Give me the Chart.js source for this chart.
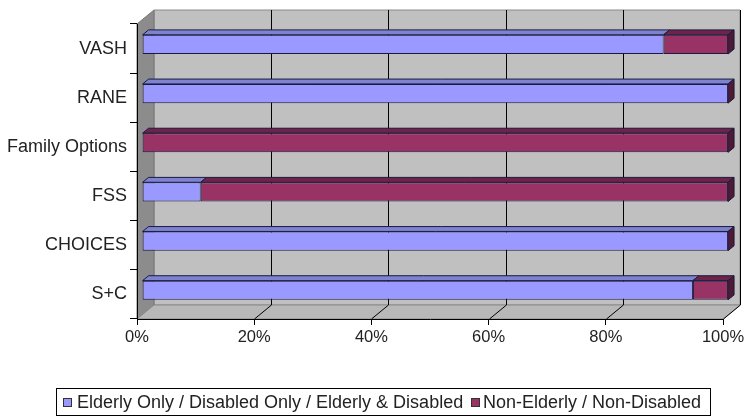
<!DOCTYPE html>
<html>
<head>
<meta charset="utf-8">
<script src="https://cdn.jsdelivr.net/npm/chart.js@4.4.0/dist/chart.umd.min.js"></script>
<style>
  html, body { margin: 0; padding: 0; background: #fff; }
</style>
</head>
<body>
<canvas id="chart" width="748" height="417"></canvas>
<script>
// data (percent of households per program)
const programs = ['VASH', 'RANE', 'Family Options', 'FSS', 'CHOICES', 'S+C'];
const elderlyDisabled = [89, 100, 0, 10, 100, 94];
const nonElderly = [11, 0, 100, 90, 0, 6];
const xTicks = [0, 20, 40, 60, 80, 100];
const seriesNames = ['Elderly Only / Disabled Only / Elderly & Disabled', 'Non-Elderly / Non-Disabled'];

const FONT = 'Arial, "Liberation Sans", sans-serif';
const DEPTH = { x: 17, y: -14 };   // offset of the back wall
const BAR_FRONT = 0.3, BAR_BACK = 0.65;  // where the bars sit in depth

const faceColors = [
    { front: '#9999ff', top: '#7d83cf', side: '#4c4f80' },
    { front: '#993366', top: '#6e2449', side: '#4f1a34' }
];
const edge = '#1a1a40';

function poly(ctx, pts, fill, stroke) {
    ctx.beginPath();
    ctx.moveTo(pts[0][0], pts[0][1]);
    for (let i = 1; i < pts.length; i++) ctx.lineTo(pts[i][0], pts[i][1]);
    ctx.closePath();
    if (fill) { ctx.fillStyle = fill; ctx.fill(); }
    if (stroke) { ctx.strokeStyle = stroke; ctx.lineWidth = 1; ctx.stroke(); }
}

const box3d = {
    id: 'box3d',
    beforeDraw(chart) {
        const { ctx, chartArea: a } = chart;
        const xs = chart.scales.x;
        const dx = DEPTH.x, dy = DEPTH.y;
        ctx.save();
        // back wall
        poly(ctx, [[a.left + dx, a.top + dy], [a.right + dx, a.top + dy], [a.right + dx, a.bottom + dy], [a.left + dx, a.bottom + dy]], '#c0c0c0', '#8a8a8a');
        // left wall
        poly(ctx, [[a.left, a.top], [a.left + dx, a.top + dy], [a.left + dx, a.bottom + dy], [a.left, a.bottom]], '#8c8c8c', '#777');
        // floor
        poly(ctx, [[a.left, a.bottom], [a.left + dx, a.bottom + dy], [a.right + dx, a.bottom + dy], [a.right, a.bottom]], '#b8b8b8', '#8a8a8a');
        // gridlines on wall and floor
        ctx.strokeStyle = '#000';
        ctx.lineWidth = 1;
        xTicks.forEach(v => {
            const px = Math.round(xs.getPixelForValue(v)) + 0.5;
            if (v === 0) return;
            ctx.beginPath();
            ctx.moveTo(px + dx, a.top + dy);
            ctx.lineTo(px + dx, a.bottom + dy);
            ctx.lineTo(px, a.bottom);
            ctx.stroke();
        });
        ctx.restore();
    },
    beforeDatasetsDraw(chart) {
        chart.ctx.save();
        chart.ctx.translate(DEPTH.x * BAR_FRONT, DEPTH.y * BAR_FRONT);
    },
    afterDatasetsDraw(chart) {
        const ctx = chart.ctx;
        ctx.restore();
        const ox = DEPTH.x * BAR_FRONT, oy = DEPTH.y * BAR_FRONT;
        const ddx = DEPTH.x * (BAR_BACK - BAR_FRONT), ddy = DEPTH.y * (BAR_BACK - BAR_FRONT);
        const last = chart.data.datasets.length - 1;
        ctx.save();
        chart.data.datasets.forEach((ds, i) => {
            const meta = chart.getDatasetMeta(i);
            meta.data.forEach(bar => {
                const p = bar.getProps(['x', 'y', 'base', 'height'], true);
                const left = p.base + ox, right = p.x + ox;
                const top = p.y - p.height / 2 + oy, bottom = p.y + p.height / 2 + oy;
                if (right - left > 0.5) {
                    poly(ctx, [[left, top], [left + ddx, top + ddy], [right + ddx, top + ddy], [right, top]], faceColors[i].top, edge);
                }
                if (i === last) {
                    poly(ctx, [[right, top], [right + ddx, top + ddy], [right + ddx, bottom + ddy], [right, bottom]], faceColors[i].side, edge);
                }
            });
        });
        ctx.restore();
    },
    afterDraw(chart) {
        // legend in a framed box under the plot
        const ctx = chart.ctx;
        ctx.save();
        ctx.font = '18px ' + FONT;
        ctx.textBaseline = 'middle';
        ctx.strokeStyle = '#000';
        ctx.lineWidth = 1;
        ctx.strokeRect(56.5, 388.5, 654, 27);
        const items = [{ sq: 63, tx: 77 }, { sq: 471, tx: 483 }];
        const cy = 402;
        seriesNames.forEach((name, i) => {
            ctx.fillStyle = faceColors[i].front;
            ctx.fillRect(items[i].sq + 0.5, cy - 3.5, 8, 8);
            ctx.strokeStyle = '#333';
            ctx.strokeRect(items[i].sq + 0.5, cy - 3.5, 8, 8);
            ctx.fillStyle = '#222';
            ctx.fillText(name, items[i].tx, cy + 1);
        });
        ctx.restore();
    }
};

new Chart(document.getElementById('chart'), {
    type: 'bar',
    data: {
        labels: programs,
        datasets: [{
            label: seriesNames[0],
            data: elderlyDisabled,
            backgroundColor: faceColors[0].front,
            borderColor: edge,
            borderWidth: 1,
            borderSkipped: false
        }, {
            label: seriesNames[1],
            data: nonElderly,
            backgroundColor: faceColors[1].front,
            borderColor: edge,
            borderWidth: 1,
            borderSkipped: false
        }]
    },
    options: {
        indexAxis: 'y',
        responsive: false,
        animation: false,
        layout: { padding: { top: 24, right: 25, bottom: 68, left: 0 } },
        datasets: { bar: { categoryPercentage: 1, barPercentage: 0.39 } },
        scales: {
            x: {
                stacked: true,
                min: 0,
                max: 100,
                afterFit: s => { s.height = 30; },
                afterBuildTicks: s => { s.ticks = xTicks.map(v => ({ value: v })); },
                ticks: { callback: v => v + '%', color: '#222', padding: 3, font: { size: 16.5, family: FONT } },
                grid: { drawOnChartArea: false, drawTicks: true, tickLength: 6, color: '#000' },
                border: { display: true, color: '#000' }
            },
            y: {
                stacked: true,
                afterFit: s => { s.width = 137; },
                ticks: { color: '#222', padding: 3, autoSkip: false, font: { size: 18, family: FONT } },
                grid: { drawOnChartArea: false, drawTicks: true, tickLength: 7, color: '#000' },
                border: { display: true, color: '#000' }
            }
        },
        plugins: {
            legend: { display: false },
            tooltip: { enabled: false }
        }
    },
    plugins: [box3d]
});
</script>
</body>
</html>
